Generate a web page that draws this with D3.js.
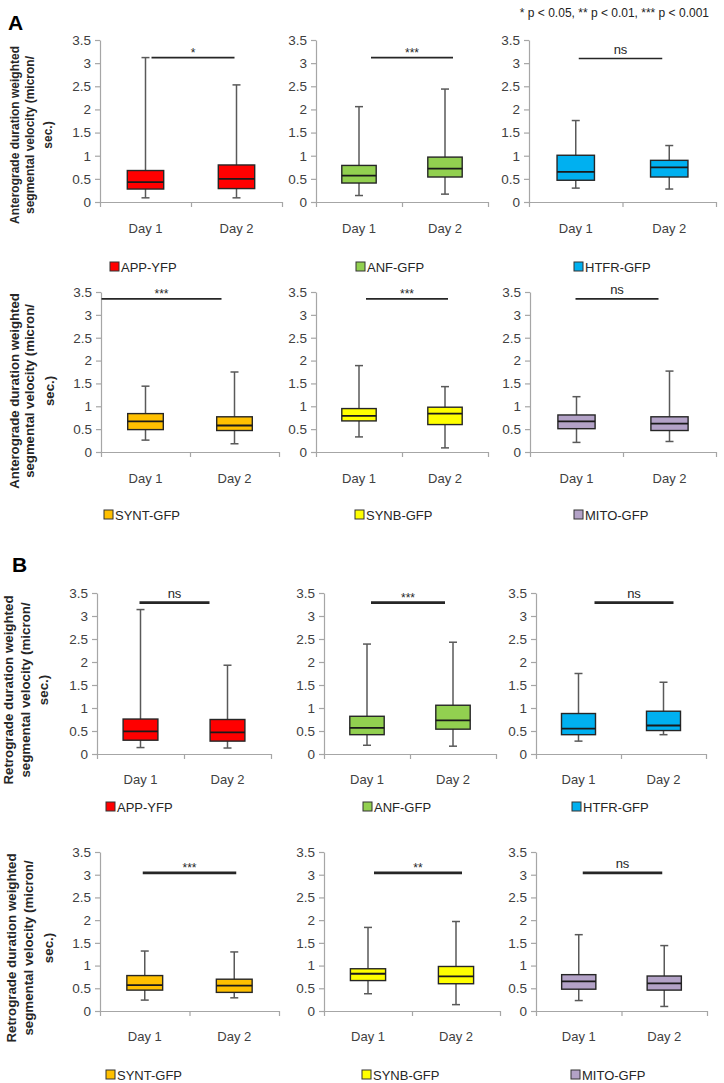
<!DOCTYPE html>
<html><head><meta charset="utf-8">
<script src="https://cdn.jsdelivr.net/npm/d3@7"></script>
<style>
body{margin:0;background:#fff}
svg{display:block}
text{font-family:"Liberation Sans",Arial,sans-serif}
</style>
</head><body>
<svg id="chart" width="724" height="1083"></svg>
<script>
// ---------------- DATA ----------------
const days = ["Day 1", "Day 2"];
const yTickValues = [0, 0.5, 1, 1.5, 2, 2.5, 3, 3.5];
const yTickLabels = ["0", "0.5", "1", "1.5", "2", "2.5", "3", "3.5"];
const markers = ["APP-YFP", "ANF-GFP", "HTFR-GFP", "SYNT-GFP", "SYNB-GFP", "MITO-GFP"];
const markerColors = ["#ff0000", "#92d050", "#00b0f0", "#ffc000", "#ffff00", "#b3a2c7"];
// box summaries per marker: [whisker low, Q1, median, Q3, whisker high]
const anteroDay1 = [[0.09,0.28,0.43,0.68,3.12],[0.14,0.41,0.57,0.79,2.06],[0.30,0.47,0.65,1.01,1.76],
                    [0.26,0.49,0.67,0.84,1.44],[0.33,0.68,0.79,0.95,1.89],[0.21,0.51,0.67,0.81,1.21]];
const anteroDay2 = [[0.09,0.29,0.50,0.80,2.53],[0.17,0.54,0.72,0.97,2.44],[0.28,0.54,0.75,0.90,1.22],
                    [0.18,0.47,0.58,0.77,1.75],[0.09,0.60,0.84,0.98,1.43],[0.23,0.47,0.62,0.77,1.77]];
const retroDay1  = [[0.14,0.30,0.49,0.76,3.14],[0.19,0.42,0.57,0.82,2.39],[0.28,0.42,0.55,0.88,1.75],
                    [0.24,0.46,0.57,0.78,1.32],[0.38,0.67,0.82,0.93,1.84],[0.23,0.48,0.65,0.80,1.68]];
const retroDay2  = [[0.13,0.28,0.47,0.75,1.93],[0.17,0.54,0.73,1.06,2.43],[0.42,0.51,0.62,0.93,1.56],
                    [0.29,0.41,0.56,0.70,1.30],[0.14,0.60,0.76,0.98,1.97],[0.10,0.46,0.61,0.77,1.44]];
const anteroSig = ["*", "***", "ns", "***", "***", "ns"];
const retroSig  = ["ns", "***", "ns", "***", "**", "ns"];
const anteroSigLevel = [3.12, 3.12, 3.10, 3.35, 3.35, 3.35];
const retroSigLevel  = [3.29, 3.29, 3.29, 3.04, 3.04, 3.04];
const footnote = "* p < 0.05, ** p < 0.01, *** p < 0.001";
const anteroTitle = ["Anterograde duration weighted", "segmental velocity  (micron/", "sec.)"];
const retroTitle  = ["Retrograde duration weighted", "segmental velocity (micron/", "sec.)"];

// ---------------- LAYOUT ----------------
const rows = [
  {y0:202, yTop:40,  dayY:233, legY:267, titleY:135, titleX:[19,34,52], titleSize:12,
   cols:[[100,282],[316,488],[529,716]], legX:[110,356,574], sigOff:[[6,-2],[12,8],[3,-7]], sigW:1.6},
  {y0:452, yTop:292, dayY:483, legY:515, titleY:391, titleX:[19,34,54], titleSize:13.2,
   cols:[[101,279],[316,488],[530,716]], legX:[104,355,574], sigOff:[[-44,-13],[7,3],[-1,-11]], sigW:1.6},
  {y0:754, yTop:593, dayY:784, legY:807, titleY:690, titleX:[13,30,48], titleSize:13.3,
   cols:[[97,271],[324,496],[536,706]], legX:[106,363,572], sigOff:[[-1,-18],[4,-8],[16,10]], sigW:2.6},
  {y0:1011, yTop:852, dayY:1041, legY:1075, titleY:948, titleX:[16,33,53], titleSize:13.3,
   cols:[[100,279],[324,500],[536,707]], legX:[106,362,571], sigOff:[[-2,2],[6,6],[4,-2]], sigW:2.6}
];

const svg = d3.select("#chart");
const TXT = "#404040";

// panel letters and footnote
svg.append("text").attr("x", 8).attr("y", 30).attr("font-size", 21).attr("font-weight", "bold")
  .attr("fill", "#000").text("A");
svg.append("text").attr("x", 12).attr("y", 572).attr("font-size", 21).attr("font-weight", "bold")
  .attr("fill", "#000").text("B");
svg.append("text").attr("x", 709).attr("y", 17).attr("text-anchor", "end").attr("font-size", 12)
  .attr("fill", "#222").text(footnote);

function drawRow(row, d1, d2, sigs, sigLevels, title, markerOffset) {
  // y-axis title
  const tg = svg.append("g");
  title.forEach((line, i) => {
    tg.append("text")
      .attr("transform", `translate(${row.titleX[i]},${row.titleY}) rotate(-90)`)
      .attr("text-anchor", "middle").attr("font-size", row.titleSize).attr("font-weight", "bold")
      .attr("fill", "#262626").text(line);
  });

  row.cols.forEach((c, j) => {
    const m = markerOffset + j;
    const y = d3.scaleLinear().domain([0, 3.5]).range([row.y0, row.yTop]);
    const x = d3.scaleBand().domain(days).range([c[0], c[1]]);
    const g = svg.append("g");

    // y axis
    const ya = d3.axisLeft(y).tickValues(yTickValues).tickFormat((d, i) => yTickLabels[i])
      .tickSize(5).tickSizeOuter(0).tickPadding(4);
    const yg = g.append("g").attr("transform", `translate(${c[0]},0)`).call(ya);
    yg.select(".domain").attr("stroke", "#a6a6a6").attr("stroke-width", 1.2);
    yg.selectAll(".tick line").attr("stroke", "#a6a6a6").attr("stroke-width", 1.2);
    yg.selectAll(".tick text").attr("font-size", 13.5).attr("fill", TXT)
      .attr("font-family", "'Liberation Sans',Arial,sans-serif");

    // x axis line with ticks at category boundaries
    const xb = d3.scaleLinear().domain([0, days.length]).range([c[0], c[1]]);
    const xa = d3.axisBottom(xb).tickValues(d3.range(days.length + 1)).tickFormat("")
      .tickSize(5).tickSizeOuter(0);
    const xg = g.append("g").attr("transform", `translate(0,${row.y0})`).call(xa);
    xg.select(".domain").attr("stroke", "#a6a6a6").attr("stroke-width", 1.2);
    xg.selectAll(".tick line").attr("stroke", "#a6a6a6").attr("stroke-width", 1.2);

    // category labels
    g.selectAll("text.day").data(days).enter().append("text").attr("class", "day")
      .attr("x", d => x(d) + x.bandwidth() / 2).attr("y", row.dayY)
      .attr("text-anchor", "middle").attr("font-size", 13).attr("fill", TXT).text(d => d);

    // boxes
    const stats = [d1[m], d2[m]];
    const bw = x.bandwidth() * 0.4;
    stats.forEach((s, k) => {
      const cx = x(days[k]) + x.bandwidth() / 2;
      const bg = g.append("g");
      bg.append("line").attr("x1", cx).attr("x2", cx).attr("y1", y(s[0])).attr("y2", y(s[4]))
        .attr("stroke", "#595959").attr("stroke-width", 1.5);
      [s[0], s[4]].forEach(v => bg.append("line").attr("x1", cx - 4).attr("x2", cx + 4)
        .attr("y1", y(v)).attr("y2", y(v)).attr("stroke", "#595959").attr("stroke-width", 1.5));
      bg.append("rect").attr("x", cx - bw / 2).attr("width", bw)
        .attr("y", y(s[3])).attr("height", y(s[1]) - y(s[3]))
        .attr("fill", markerColors[m]).attr("stroke", "#262626").attr("stroke-width", 1.4);
      bg.append("line").attr("x1", cx - bw / 2).attr("x2", cx + bw / 2)
        .attr("y1", y(s[2])).attr("y2", y(s[2])).attr("stroke", "#1a1a1a").attr("stroke-width", 1.8);
    });

    // significance bar
    const x1 = x(days[0]) + x.bandwidth() / 2 + row.sigOff[j][0];
    const x2 = x(days[1]) + x.bandwidth() / 2 + row.sigOff[j][1];
    g.append("line").attr("x1", x1).attr("x2", x2).attr("y1", y(sigLevels[m])).attr("y2", y(sigLevels[m]))
      .attr("stroke", "#262626").attr("stroke-width", row.sigW);
    const isNs = sigs[m] === "ns";
    g.append("text").attr("x", (x1 + x2) / 2).attr("y", y(sigLevels[m]) - (isNs ? 5 : 1))
      .attr("text-anchor", "middle").attr("font-size", isNs ? 13 : 12).attr("fill", "#262626")
      .text(sigs[m]);

    // legend
    const lg = svg.append("g").attr("transform", `translate(${row.legX[j]},${row.legY})`);
    lg.append("rect").attr("x", 0).attr("y", -5).attr("width", 9).attr("height", 9)
      .attr("fill", markerColors[m]).attr("stroke", "#333").attr("stroke-width", 1);
    lg.append("text").attr("x", 11).attr("y", 5).attr("font-size", 13).attr("fill", "#262626")
      .text(markers[m]);
  });
}

drawRow(rows[0], anteroDay1, anteroDay2, anteroSig, anteroSigLevel, anteroTitle, 0);
drawRow(rows[1], anteroDay1, anteroDay2, anteroSig, anteroSigLevel, anteroTitle, 3);
drawRow(rows[2], retroDay1, retroDay2, retroSig, retroSigLevel, retroTitle, 0);
drawRow(rows[3], retroDay1, retroDay2, retroSig, retroSigLevel, retroTitle, 3);
</script>
</body></html>
